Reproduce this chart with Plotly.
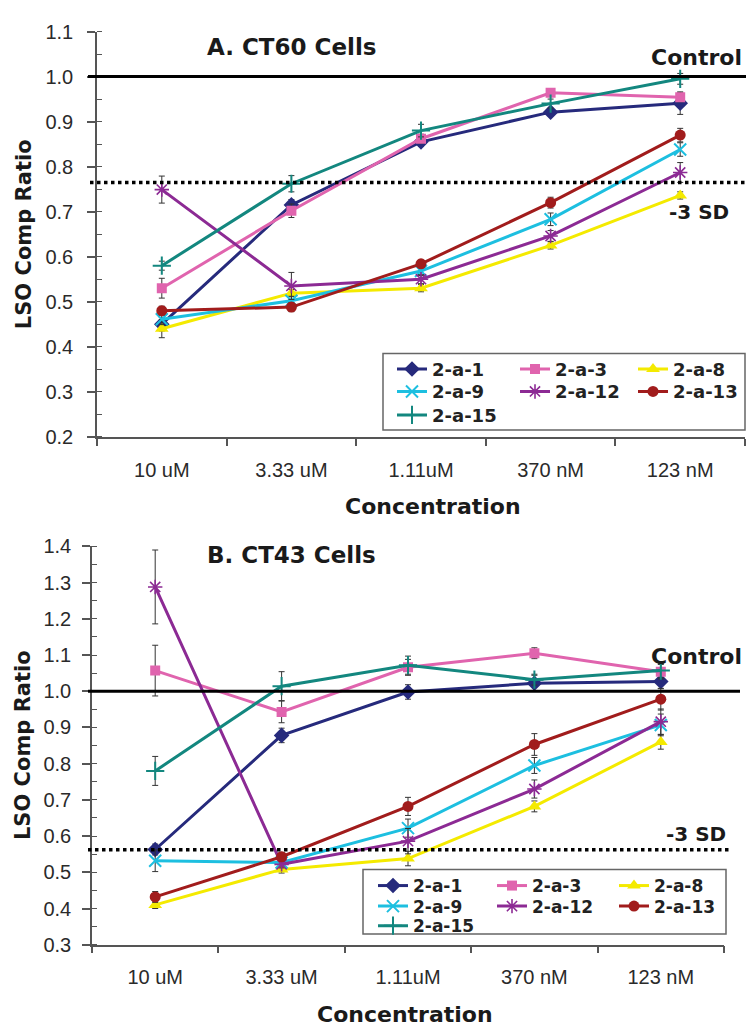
import plotly.graph_objects as go

categories = ["10 uM", "3.33 uM", "1.11uM", "370 nM", "123 nM"]
series_names = ["2-a-1", "2-a-3", "2-a-8", "2-a-9", "2-a-12", "2-a-13", "2-a-15"]

# Panel A: CT60 cells
ct60 = {
    "2-a-1": [0.45, 0.715, 0.855, 0.921, 0.941],
    "2-a-3": [0.530, 0.702, 0.862, 0.964, 0.954],
    "2-a-8": [0.440, 0.519, 0.530, 0.625, 0.736],
    "2-a-9": [0.461, 0.502, 0.568, 0.683, 0.838],
    "2-a-12": [0.749, 0.535, 0.550, 0.646, 0.787],
    "2-a-13": [0.480, 0.488, 0.584, 0.720, 0.870],
    "2-a-15": [0.580, 0.762, 0.880, 0.940, 0.995],
}
ct60_err = {
    "2-a-1": [0.015, 0.012, 0.010, 0.008, 0.025],
    "2-a-3": [0.022, 0.015, 0.010, 0.006, 0.010],
    "2-a-8": [0.020, 0.008, 0.008, 0.008, 0.008],
    "2-a-9": [0.012, 0.010, 0.010, 0.014, 0.015],
    "2-a-12": [0.030, 0.030, 0.010, 0.012, 0.022],
    "2-a-13": [0.010, 0.010, 0.008, 0.012, 0.015],
    "2-a-15": [0.010, 0.018, 0.014, 0.010, 0.012],
}
ct60_sd = 0.765

# Panel B: CT43 cells
ct43 = {
    "2-a-1": [0.563, 0.878, 0.998, 1.022, 1.027],
    "2-a-3": [1.057, 0.943, 1.066, 1.105, 1.054],
    "2-a-8": [0.410, 0.508, 0.538, 0.682, 0.860],
    "2-a-9": [0.532, 0.527, 0.622, 0.795, 0.907],
    "2-a-12": [1.288, 0.522, 0.586, 0.730, 0.916],
    "2-a-13": [0.432, 0.543, 0.682, 0.853, 0.978],
    "2-a-15": [0.780, 1.014, 1.072, 1.032, 1.057],
}
ct43_err = {
    "2-a-1": [0.015, 0.020, 0.020, 0.022, 0.020],
    "2-a-3": [0.070, 0.030, 0.022, 0.015, 0.020],
    "2-a-8": [0.010, 0.010, 0.020, 0.015, 0.020],
    "2-a-9": [0.030, 0.012, 0.025, 0.022, 0.030],
    "2-a-12": [0.102, 0.010, 0.035, 0.025, 0.035],
    "2-a-13": [0.015, 0.012, 0.025, 0.030, 0.030],
    "2-a-15": [0.040, 0.040, 0.025, 0.015, 0.020],
}
ct43_sd = 0.562

colors = {
    "2-a-1": "#262A7C",
    "2-a-3": "#E064AE",
    "2-a-8": "#F4EA00",
    "2-a-9": "#1DBFE0",
    "2-a-12": "#8C2A94",
    "2-a-13": "#A11C1C",
    "2-a-15": "#13877F",
}
symbols = {
    "2-a-1": ("diamond", 12, 0),
    "2-a-3": ("square", 10, 0),
    "2-a-8": ("triangle-up", 12, 0),
    "2-a-9": ("x-thin", 12, 2),
    "2-a-12": ("asterisk", 12, 1.6),
    "2-a-13": ("circle", 11, 0),
    "2-a-15": ("cross-thin", 13, 2),
}

W, H = 749, 1036
BOLD = "DejaVu Sans"
REG = "Liberation Sans"


def px_x(p):
    return p / W


def px_y(p):
    return 1 - p / H


# legend grid: (column, row) for each series; one single-entry legend per item
grid = {
    "2-a-1": (0, 0), "2-a-3": (1, 0), "2-a-8": (2, 0),
    "2-a-9": (0, 1), "2-a-12": (1, 1), "2-a-13": (2, 1),
    "2-a-15": (0, 2),
}
panels = [
    dict(data=ct60, errs=ct60_err, xa="x", ya="y", leg_offset=0,
         col_x=[392, 515, 633], row_y=[366, 389, 413], font=18,
         box=(383, 350, 745, 428)),
    dict(data=ct43, errs=ct43_err, xa="x2", ya="y2", leg_offset=7,
         col_x=[373, 492, 614], row_y=[894, 915, 935], font=17,
         box=(363, 877, 726, 943)),
]

fig = go.Figure()
legends = {}
for p in panels:
    for i, name in enumerate(series_names):
        k = p["leg_offset"] + i + 1
        leg = "legend" if k == 1 else f"legend{k}"
        sym, size, lw = symbols[name]
        fig.add_trace(go.Scatter(
            x=categories, y=p["data"][name], name=name, mode="lines+markers",
            xaxis=p["xa"], yaxis=p["ya"], legend=leg,
            line=dict(color=colors[name], width=3),
            marker=dict(symbol=sym, size=size, color=colors[name],
                        line=dict(width=lw, color=colors[name])),
            error_y=dict(type="data", array=p["errs"][name], visible=True,
                         color="#333333", thickness=1, width=3),
        ))
        c, r = grid[name]
        legends[leg] = dict(
            x=px_x(p["col_x"][c]), y=px_y(p["row_y"][r]),
            xanchor="left", yanchor="middle", orientation="v",
            bgcolor="rgba(0,0,0,0)", borderwidth=0, itemwidth=30,
            font=dict(family=BOLD, size=p["font"], color="#222222", weight="bold"),
        )

axis_common = dict(
    showline=True, linecolor="#555555", linewidth=1.5,
    showgrid=False, zeroline=False,
    tickfont=dict(family=REG, size=20, color="#2a2a2a"),
    tickcolor="#555555", tickwidth=1.5,
)

fig.update_layout(
    width=W, height=H,
    margin=dict(l=0, r=0, t=0, b=0),
    plot_bgcolor="white", paper_bgcolor="white",
    showlegend=True,
    xaxis=dict(domain=[px_x(97), px_x(745)], anchor="y", type="category",
               range=[-0.5, 4.5], tickson="boundaries", ticks="outside",
               ticklen=7, ticklabelstandoff=14, **axis_common),
    yaxis=dict(domain=[px_y(435), px_y(21)], anchor="x", range=[0.2, 1.1],
               dtick=0.1, tick0=0.2, tickformat=".1f", ticks="outside", ticklen=8,
               ticklabelstandoff=10,
               minor=dict(dtick=0.05, ticks="inside", ticklen=5,
                          tickcolor="#555555", tickwidth=1.2),
               **axis_common),
    xaxis2=dict(domain=[px_x(92), px_x(724)], anchor="y2", type="category",
                range=[-0.5, 4.5], tickson="boundaries", ticks="outside",
                ticklen=7, ticklabelstandoff=14, **axis_common),
    yaxis2=dict(domain=[px_y(954), px_y(547)], anchor="x2", range=[0.3, 1.4],
                dtick=0.1, tick0=0.3, tickformat=".1f", ticks="outside", ticklen=8,
                ticklabelstandoff=7,
                minor=dict(dtick=0.05, ticks="inside", ticklen=5,
                           tickcolor="#555555", tickwidth=1.2),
                **axis_common),
    **legends,
)

# Reference lines: Control (1.0) and -3 SD, plus legend frames
shapes = [
    dict(type="line", xref="paper", yref="y", x0=px_x(88), x1=px_x(746),
         y0=1.0, y1=1.0, line=dict(color="black", width=3)),
    dict(type="line", xref="paper", yref="y", x0=px_x(90), x1=px_x(746),
         y0=ct60_sd, y1=ct60_sd, line=dict(color="black", width=3.5, dash="dot")),
    dict(type="line", xref="paper", yref="y2", x0=px_x(88), x1=px_x(740),
         y0=1.0, y1=1.0, line=dict(color="black", width=3)),
    dict(type="line", xref="paper", yref="y2", x0=px_x(88), x1=px_x(730),
         y0=ct43_sd, y1=ct43_sd, line=dict(color="black", width=3.5, dash="dot")),
]
for p in panels:
    x0, y0, x1, y1 = p["box"]
    shapes.append(dict(type="rect", xref="paper", yref="paper", layer="above",
                       x0=px_x(x0), x1=px_x(x1), y0=px_y(y1), y1=px_y(y0),
                       fillcolor="white", line=dict(color="#666666", width=1.5)))
fig.update_layout(shapes=shapes)


def bold_font(s):
    return dict(family=BOLD, size=s, color="#1a1a1a", weight="bold")


annotations = [
    dict(text="A. CT60 Cells", x=px_x(205), y=px_y(37), xanchor="left", yanchor="middle",
         font=bold_font(23)),
    dict(text="Control", x=px_x(744), y=px_y(47), xanchor="right", yanchor="middle",
         font=bold_font(22)),
    dict(text="-3 SD", x=px_x(731), y=px_y(205), xanchor="right", yanchor="middle",
         font=bold_font(20)),
    dict(text="Concentration", x=px_x(433), y=px_y(506), xanchor="center", yanchor="middle",
         font=bold_font(22)),
    dict(text="LSO Comp Ratio", x=px_x(24), y=px_y(228), xanchor="center", yanchor="middle",
         textangle=-90, font=bold_font(21)),
    dict(text="B. CT43 Cells", x=px_x(205), y=px_y(556), xanchor="left", yanchor="middle",
         font=bold_font(23)),
    dict(text="Control", x=px_x(744), y=px_y(660), xanchor="right", yanchor="middle",
         font=bold_font(22)),
    dict(text="-3 SD", x=px_x(728), y=px_y(841), xanchor="right", yanchor="middle",
         font=bold_font(20)),
    dict(text="Concentration", x=px_x(405), y=px_y(1025), xanchor="center", yanchor="middle",
         font=bold_font(22)),
    dict(text="LSO Comp Ratio", x=px_x(23), y=px_y(750), xanchor="center", yanchor="middle",
         textangle=-90, font=bold_font(21)),
]
for a in annotations:
    a.update(xref="paper", yref="paper", showarrow=False)
fig.update_layout(annotations=annotations)

fig.write_html(
    "out.html",
    config={"displayModeBar": False},
    post_script="document.body.style.margin='0px';document.body.style.overflow='hidden';",
)
